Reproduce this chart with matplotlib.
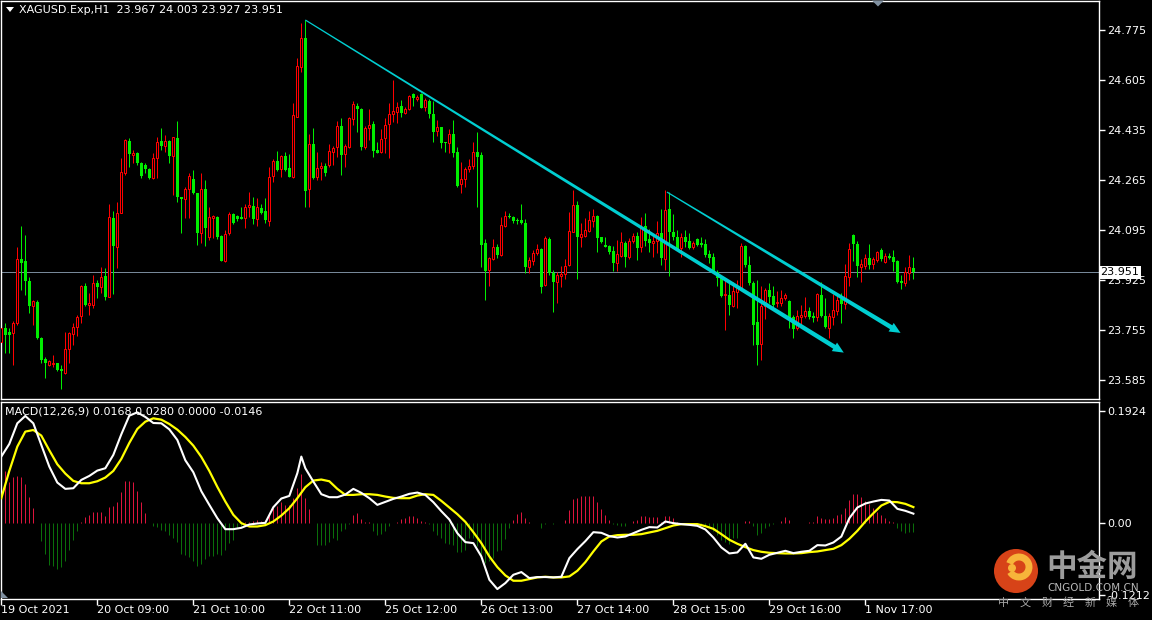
import matplotlib
matplotlib.use('Agg')
import matplotlib.pyplot as plt
import matplotlib.transforms as mtransforms
from matplotlib.patches import Rectangle, Polygon, Circle, Arc
import numpy as np

# ---------------- data ----------------
opens = [23.715,23.761,23.747,23.744,23.780,23.995,23.990,23.922,23.838,23.851,
         23.729,23.655,23.636,23.639,23.642,23.624,23.610,23.689,23.740,23.764,
         23.803,23.905,23.840,23.840,23.916,23.902,23.939,23.868,24.135,24.038,
         24.154,24.288,24.398,24.350,24.358,24.322,24.316,24.301,24.271,24.339,
         24.398,24.381,24.398,24.348,24.409,24.206,24.200,24.233,24.267,24.220,
         24.084,24.233,24.070,24.135,24.140,24.075,23.991,24.084,24.148,24.143,
         24.138,24.135,24.172,24.177,24.131,24.169,24.161,24.127,24.279,24.330,
         24.301,24.347,24.307,24.276,24.480,24.648,24.747,24.233,24.387,24.276,
         24.305,24.313,24.316,24.359,24.378,24.449,24.352,24.376,24.472,24.517,
         24.506,24.378,24.441,24.455,24.367,24.361,24.407,24.454,24.489,24.497,
         24.517,24.494,24.505,24.556,24.539,24.556,24.512,24.534,24.489,24.433,
         24.444,24.393,24.390,24.421,24.359,24.250,24.267,24.301,24.313,24.360,
         24.350,24.050,23.959,23.996,24.036,24.010,24.110,24.143,24.138,24.129,
         24.129,24.118,23.970,23.991,24.016,24.029,23.908,24.063,23.950,23.919,
         23.939,23.945,23.976,24.089,24.180,24.072,24.076,24.093,24.127,24.143,
         24.070,24.044,24.041,24.024,23.982,24.008,24.052,24.004,24.059,24.076,
         24.036,24.110,24.063,24.050,24.058,24.084,23.996,24.165,24.089,24.070,
         24.033,24.070,24.058,24.036,24.064,24.050,24.046,24.012,24.004,23.953,
         23.931,23.874,23.874,23.838,23.885,23.897,24.041,23.976,23.914,23.783,
         23.706,23.837,23.891,23.871,23.846,23.848,23.863,23.854,23.798,23.761,
         23.800,23.803,23.821,23.803,23.800,23.874,23.803,23.761,23.800,23.821,
         23.860,23.842,23.936,24.078,24.046,23.970,23.974,24.001,23.979,23.993,
         24.027,23.987,24.007,24.002,23.990,23.922,23.914,23.950,23.967]
highs = [23.789,23.778,23.761,23.787,24.038,24.109,24.078,23.936,23.857,23.857,
         23.732,23.664,23.653,23.670,23.644,23.636,23.749,23.749,23.778,23.806,
         23.908,23.916,23.880,23.942,23.925,23.970,23.965,24.183,24.161,24.191,
         24.339,24.403,24.407,24.367,24.361,24.327,24.322,24.305,24.356,24.412,
         24.441,24.418,24.401,24.412,24.467,24.208,24.242,24.288,24.299,24.222,
         24.290,24.265,24.174,24.146,24.143,24.078,24.095,24.157,24.152,24.146,
         24.172,24.183,24.225,24.208,24.203,24.183,24.203,24.310,24.335,24.364,
         24.350,24.361,24.353,24.526,24.679,24.798,24.809,24.421,24.443,24.361,
         24.325,24.322,24.387,24.382,24.466,24.475,24.387,24.480,24.534,24.526,
         24.509,24.450,24.506,24.467,24.395,24.438,24.475,24.528,24.605,24.531,
         24.537,24.514,24.554,24.562,24.554,24.560,24.543,24.540,24.534,24.469,
         24.446,24.395,24.438,24.469,24.378,24.327,24.310,24.335,24.395,24.428,
         24.361,24.063,24.004,24.064,24.047,24.138,24.161,24.152,24.144,24.135,
         24.183,24.131,24.004,24.027,24.046,24.033,24.075,24.070,23.959,23.953,
         23.973,23.995,24.156,24.231,24.195,24.118,24.135,24.160,24.165,24.146,
         24.072,24.070,24.044,24.041,24.061,24.087,24.059,24.067,24.084,24.087,
         24.138,24.152,24.098,24.078,24.126,24.166,24.231,24.225,24.148,24.095,
         24.084,24.095,24.084,24.059,24.069,24.070,24.064,24.027,24.016,23.959,
         23.936,23.925,23.914,23.919,23.925,24.052,24.044,24.007,23.923,23.925,
         23.905,23.897,23.914,23.905,23.889,23.891,23.880,23.857,23.806,23.823,
         23.840,23.868,23.834,23.817,23.880,23.919,23.865,23.814,23.877,23.876,
         23.880,23.979,24.052,24.081,24.059,23.995,24.013,24.047,24.004,24.025,
         24.033,24.016,24.018,24.027,23.993,23.942,23.968,24.010,24.003]
lows = [23.664,23.676,23.676,23.636,23.772,23.891,23.874,23.812,23.772,23.723,
        23.642,23.593,23.633,23.630,23.617,23.553,23.605,23.642,23.704,23.735,
        23.778,23.838,23.806,23.829,23.863,23.880,23.857,23.866,23.877,23.965,
        24.152,24.282,24.310,24.322,24.316,24.271,24.288,24.267,24.268,24.271,
        24.367,24.361,24.322,24.214,24.191,24.084,24.135,24.135,24.216,24.044,
        24.052,24.041,24.061,24.067,24.063,23.991,23.987,24.078,24.115,24.127,
        24.131,24.103,24.140,24.115,24.109,24.149,24.120,24.109,24.259,24.297,
        24.274,24.297,24.274,24.273,24.478,24.633,24.174,24.174,24.267,24.265,
        24.265,24.280,24.310,24.316,24.344,24.282,24.310,24.373,24.452,24.429,
        24.367,24.369,24.401,24.342,24.356,24.356,24.358,24.339,24.463,24.460,
        24.480,24.488,24.503,24.517,24.534,24.509,24.501,24.475,24.395,24.416,
        24.373,24.361,24.356,24.344,24.242,24.220,24.240,24.293,24.301,24.174,
        23.970,23.857,23.906,23.993,23.999,24.007,24.106,24.135,24.118,24.115,
        24.115,23.948,23.950,23.976,24.010,23.880,23.906,23.942,23.815,23.848,
        23.902,23.928,23.974,24.087,23.929,24.038,24.072,24.089,24.106,24.021,
        24.050,24.036,24.013,23.957,23.957,24.004,23.970,23.995,24.052,23.993,
        24.021,24.041,24.021,24.002,24.016,23.976,23.959,23.939,24.061,24.027,
        24.004,24.038,24.029,24.029,24.041,24.038,24.004,23.982,23.948,23.905,
        23.868,23.755,23.806,23.834,23.829,23.891,23.970,23.908,23.704,23.636,
        23.653,23.791,23.846,23.825,23.834,23.837,23.857,23.761,23.727,23.755,
        23.772,23.795,23.791,23.783,23.787,23.798,23.761,23.727,23.772,23.806,
        23.780,23.825,23.905,23.991,23.936,23.919,23.961,23.961,23.961,23.987,
        23.991,23.982,23.995,23.957,23.914,23.894,23.905,23.925,23.927]
closes = [23.761,23.738,23.738,23.778,23.995,23.984,23.922,23.838,23.852,23.727,
          23.653,23.642,23.650,23.642,23.619,23.617,23.689,23.744,23.764,23.800,
          23.905,23.840,23.846,23.914,23.902,23.936,23.868,24.138,24.041,24.152,
          24.291,24.401,24.353,24.356,24.322,24.279,24.301,24.271,24.339,24.393,
          24.382,24.396,24.348,24.410,24.206,24.199,24.235,24.279,24.220,24.084,
          24.233,24.101,24.138,24.143,24.072,23.991,24.080,24.148,24.118,24.134,
          24.134,24.174,24.180,24.134,24.172,24.154,24.129,24.276,24.330,24.299,
          24.347,24.299,24.276,24.486,24.653,24.747,24.229,24.387,24.271,24.305,
          24.314,24.290,24.364,24.375,24.449,24.350,24.382,24.475,24.523,24.505,
          24.378,24.443,24.452,24.365,24.358,24.404,24.452,24.489,24.500,24.514,
          24.494,24.506,24.551,24.545,24.548,24.511,24.537,24.488,24.429,24.444,
          24.390,24.392,24.421,24.356,24.246,24.267,24.301,24.313,24.359,24.344,
          24.044,23.957,24.001,24.036,24.010,24.112,24.143,24.140,24.127,24.127,
          24.120,23.970,23.993,24.016,24.029,23.902,24.067,23.950,23.919,23.941,
          23.945,23.974,24.092,24.180,24.072,24.080,24.095,24.129,24.143,24.069,
          24.053,24.038,24.021,23.984,24.013,24.053,24.004,24.059,24.076,24.035,
          24.106,24.059,24.052,24.059,24.084,23.999,24.163,24.089,24.070,24.029,
          24.072,24.055,24.035,24.052,24.044,24.044,24.010,23.999,23.950,23.931,
          23.871,23.877,23.840,23.889,23.899,24.041,23.976,23.916,23.772,23.704,
          23.837,23.891,23.868,23.840,23.851,23.863,23.874,23.795,23.757,23.803,
          23.806,23.821,23.800,23.797,23.877,23.803,23.766,23.803,23.823,23.857,
          23.842,23.939,24.029,24.046,23.974,23.978,24.001,23.976,23.995,24.021,
          23.995,24.008,24.001,23.987,23.917,23.916,23.951,23.970,23.951]

# MACD main line (white), sampled at these bar indices
macd_bars = list(range(0, 75, 2)) + [75] + list(range(76, 229, 2))
macd_main = [0.1142,0.1357,0.1710,0.1835,0.1710,0.1340,0.0971,0.0699,0.0591,0.0602,
             0.0744,0.0812,0.0903,0.0943,0.1170,0.1522,0.1840,0.1897,0.1818,0.1715,
             0.1710,0.1607,0.1426,0.1079,0.0875,0.0551,0.0318,0.0091,-0.0097,-0.0097,
             -0.0074,-0.0017,0.0000,0.0011,0.0278,0.0426,0.0471,0.0858,
             0.1142,
             0.0943,0.0716,0.0500,0.0449,0.0449,0.0494,0.0591,0.0523,0.0432,0.0318,
             0.0369,0.0420,0.0460,0.0506,0.0528,0.0488,0.0364,0.0210,0.0068,-0.0165,
             -0.0318,-0.0335,-0.0562,-0.0960,-0.1119,-0.1017,-0.0875,-0.0829,-0.0932,-0.0914,
             -0.0914,-0.0920,-0.0909,-0.0591,-0.0437,-0.0301,-0.0148,-0.0159,-0.0216,-0.0239,
             -0.0222,-0.0165,-0.0108,-0.0062,-0.0068,0.0034,0.0006,-0.0011,-0.0023,-0.0040,
             -0.0102,-0.0239,-0.0409,-0.0511,-0.0494,-0.0346,-0.0579,-0.0602,-0.0534,-0.0500,
             -0.0466,-0.0506,-0.0483,-0.0466,-0.0369,-0.0375,-0.0324,-0.0222,0.0091,0.0273,
             0.0341,0.0375,0.0403,0.0392,0.0250,0.0216,0.0168]
# signal line (yellow), every second bar
signal_bars = list(range(0, 229, 2))
macd_signal = [0.0432,0.0897,0.1312,0.1568,0.1596,0.1500,0.1250,0.1011,0.0852,0.0727,
               0.0687,0.0687,0.0721,0.0784,0.0897,0.1102,0.1375,0.1613,0.1738,0.1795,
               0.1772,0.1698,0.1602,0.1477,0.1329,0.1136,0.0897,0.0625,0.0375,0.0148,
               0.0006,-0.0051,-0.0051,-0.0028,0.0034,0.0136,0.0261,0.0432,0.0619,0.0733,
               0.0750,0.0721,0.0591,0.0488,0.0488,0.0500,0.0500,0.0488,0.0460,0.0437,
               0.0432,0.0432,0.0477,0.0500,0.0488,0.0386,0.0273,0.0159,0.0028,-0.0148,
               -0.0335,-0.0562,-0.0744,-0.0886,-0.0977,-0.0977,-0.0949,-0.0920,-0.0909,-0.0920,
               -0.0920,-0.0903,-0.0807,-0.0659,-0.0477,-0.0307,-0.0222,-0.0199,-0.0193,-0.0193,
               -0.0182,-0.0153,-0.0125,-0.0080,-0.0034,-0.0011,-0.0011,-0.0011,-0.0045,-0.0091,
               -0.0182,-0.0278,-0.0346,-0.0403,-0.0454,-0.0483,-0.0500,-0.0506,-0.0511,-0.0511,
               -0.0506,-0.0488,-0.0477,-0.0454,-0.0432,-0.0369,-0.0261,-0.0125,0.0034,0.0176,
               0.0307,0.0369,0.0364,0.0335,0.0280]
# histogram, one value per bar
macd_hist = [0.0943,0.0897,0.0716,0.0801,0.0812,0.0795,0.0670,0.0449,0.0261,0.0,
             -0.0295,-0.0523,-0.0704,-0.0733,-0.0772,-0.0750,-0.0648,-0.0449,-0.0278,-0.0136,
             0.0034,0.0119,0.0148,0.0204,0.0204,0.0204,0.0131,0.0290,0.0307,0.0375,
             0.0545,0.0727,0.0733,0.0704,0.0557,0.0364,0.0176,0.0006,-0.0051,-0.0068,
             -0.0108,-0.0125,-0.0193,-0.0250,-0.0318,-0.0523,-0.0534,-0.0579,-0.0648,-0.0733,
             -0.0693,-0.0602,-0.0551,-0.0562,-0.0523,-0.0534,-0.0449,-0.0335,-0.0278,-0.0080,
             -0.0051,0.0023,0.0034,0.0045,0.0062,0.0045,0.0062,0.0176,0.0261,0.0307,
             0.0364,0.0318,0.0318,0.0432,0.0613,0.0841,0.0432,0.0250,0.0,-0.0364,
             -0.0375,-0.0364,-0.0318,-0.0239,-0.0278,-0.0136,-0.0091,-0.0011,0.0148,0.0176,
             0.0080,0.0034,0.0023,-0.0136,-0.0193,-0.0182,-0.0125,-0.0051,0.0,0.0034,
             0.0080,0.0102,0.0136,0.0136,0.0102,0.0045,0.0023,-0.0011,-0.0136,-0.0204,
             -0.0250,-0.0335,-0.0352,-0.0364,-0.0488,-0.0488,-0.0449,-0.0250,-0.0250,-0.0392,
             -0.0591,-0.0676,-0.0648,-0.0591,-0.0477,-0.0449,-0.0261,-0.0080,0.0062,0.0159,
             0.0204,0.0091,0.0023,0.0011,0.0011,-0.0080,-0.0006,0.0,-0.0011,0.0,
             0.0006,0.0062,0.0233,0.0420,0.0443,0.0466,0.0471,0.0471,0.0466,0.0375,
             0.0250,0.0148,0.0062,-0.0006,-0.0034,-0.0051,-0.0045,0.0,0.0045,0.0062,
             0.0136,0.0131,0.0108,0.0108,0.0114,0.0034,0.0136,0.0136,0.0091,0.0034,
             0.0,0.0,0.0,-0.0011,0.0,-0.0011,-0.0034,-0.0057,-0.0136,-0.0204,
             -0.0278,-0.0318,-0.0352,-0.0250,-0.0239,0.0,0.0045,0.0051,-0.0051,-0.0193,
             -0.0159,-0.0080,-0.0045,-0.0011,0.0,0.0045,0.0108,0.0062,0.0,0.0,
             0.0,0.0,0.0023,0.0034,0.0131,0.0102,0.0080,0.0080,0.0102,0.0148,
             0.0159,0.0261,0.0403,0.0506,0.0500,0.0449,0.0392,0.0329,0.0261,0.0193,
             0.0148,0.0091,0.0045,0.0023,-0.0080,-0.0136,-0.0165,-0.0148,-0.0146]

price_ticks = [24.775, 24.605, 24.435, 24.265, 24.095, 23.925, 23.755, 23.585]
macd_ticks = [0.1924, 0.0, -0.1212]
macd_tick_labels = ['0.1924', '0.00', '-0.1212']
date_bars = [0, 24, 48, 72, 96, 120, 144, 168, 192, 216]
date_labels = ['19 Oct 2021', '20 Oct 09:00', '21 Oct 10:00', '22 Oct 11:00', '25 Oct 12:00',
               '26 Oct 13:00', '27 Oct 14:00', '28 Oct 15:00', '29 Oct 16:00', '1 Nov 17:00']
# trend lines: (bar, price) start and arrow tip
trend1 = [(76.0, 24.809), (210.6, 23.678)]
trend2 = [(166.4, 24.224), (224.8, 23.745)]
header = 'XAGUSD.Exp,H1  23.967 24.003 23.927 23.951'
macd_label = 'MACD(12,26,9) 0.0168 0.0280 0.0000 -0.0146'

# ---------------- figure ----------------
W, H = 1152, 620
fig = plt.figure(figsize=(W / 100, H / 100), dpi=100, facecolor='black')
plt.rcParams['font.family'] = ['DejaVu Sans']

def px_axes(x0, y0, x1, y1):
    return fig.add_axes([x0 / W, 1 - y1 / H, (x1 - x0) / W, (y1 - y0) / H])

ax = px_axes(0.5, 0.5, 1099, 399)
ax2 = px_axes(0.5, 401.5, 1099, 598.5)
PX = 0.72  # one pixel in points

RED = '#FF0000'
GREEN = '#00EE00'
n = len(closes)
xs = np.arange(n)
for a in (ax, ax2):
    a.set_facecolor('black')
    a.set_xlim(-0.2, 274.4)
    for s in a.spines.values():
        s.set_color('white')
        s.set_linewidth(1)

ax.set_ylim(23.5203, 24.8753)
ax2.set_ylim(-0.1280, 0.2082)

# candles
for i in range(n):
    o, h, l, c = opens[i], highs[i], lows[i], closes[i]
    up = c >= o
    col = RED if up else GREEN
    ax.vlines(i, l, h, colors=col, linewidth=PX, zorder=2)
    lo, hi = min(o, c), max(o, c)
    if up:
        ax.add_patch(Rectangle((i - 0.25, lo), 0.5, max(hi - lo, 0.0005),
                               facecolor='black', edgecolor=col, linewidth=PX, zorder=3))
    else:
        hgt = max(hi - lo, 0.0034)
        ax.add_patch(Rectangle((i - 0.375, hi - hgt), 0.75, hgt,
                               facecolor=col, edgecolor='none', zorder=3))

ax.axhline(closes[-1], color='#778899', linewidth=PX, zorder=1)

# right price axis
ax.yaxis.tick_right()
ax.set_yticks(price_ticks)
ax.set_yticklabels([f'{t:.3f}' for t in price_ticks])
ax.tick_params(axis='y', colors='white', labelcolor='white', labelsize=8,
               length=4, width=1, pad=2, direction='out')
ax.set_xticks([])

trans = mtransforms.blended_transform_factory(fig.transFigure, ax.transData)
ax.text(1100.5 / W, closes[-1], f'{closes[-1]:.3f}', transform=trans, ha='left', va='center',
        color='black', fontsize=8, zorder=10,
        bbox=dict(boxstyle='square,pad=0.12', facecolor='white', edgecolor='none'))


def tapered_arrow(a, p0, p1, w0, w1, head_len, head_w, color):
    T = a.transData
    s = T.transform(p0)
    e = T.transform(p1)
    d = e - s
    L = np.hypot(*d)
    u = d / L
    nn = np.array([-u[1], u[0]])
    base = e - u * head_len
    pts = [s + nn * w0 / 2, base + nn * w1 / 2, base + nn * head_w / 2, e,
           base - nn * head_w / 2, base - nn * w1 / 2, s - nn * w0 / 2]
    data = T.inverted().transform(np.array(pts))
    a.add_patch(Polygon(data, closed=True, facecolor=color, edgecolor='none', zorder=6))

tapered_arrow(ax, trend1[0], trend1[1], 1.2, 4.5, 11, 10, '#00CED1')
tapered_arrow(ax, trend2[0], trend2[1], 1.2, 4.5, 11, 10, '#00CED1')

# MACD panel
hist = np.array(macd_hist)
hcols = np.where(hist >= 0, '#DC143C', '#0A6E0A')
ax2.vlines(xs, 0, hist, colors=hcols, linewidth=PX, zorder=2)
ax2.plot(signal_bars, macd_signal, color='#FFFF00', linewidth=1.6, zorder=3)
ax2.plot(macd_bars, macd_main, color='white', linewidth=1.5, zorder=4)

ax2.yaxis.tick_right()
ax2.set_yticks(macd_ticks)
ax2.set_yticklabels(macd_tick_labels)
ax2.tick_params(axis='y', colors='white', labelcolor='white', labelsize=8,
                length=4, width=1, pad=2, direction='out')
ax2.set_xticks(date_bars)
ax2.set_xticklabels(date_labels)
ax2.tick_params(axis='x', colors='white', labelcolor='white', labelsize=8,
                length=4, width=1, pad=1, direction='out')
for lbl in ax2.get_xticklabels():
    lbl.set_horizontalalignment('left')

# overlay for decorations in pixel coordinates
ov = fig.add_axes([0, 0, 1, 1], zorder=20)
ov.set_xlim(0, W)
ov.set_ylim(H, 0)
ov.axis('off')
ov.patch.set_alpha(0)

ov.add_patch(Polygon([(6, 7), (14, 7), (10, 12)], closed=True, facecolor='white', edgecolor='none'))
ov.text(19, 10, header, color='white', fontsize=8, va='center', ha='left')
ov.text(5, 412, macd_label, color='white', fontsize=8, va='center', ha='left')
ov.add_patch(Polygon([(872, 0.5), (884, 0.5), (878, 6.5)], closed=True, facecolor='#8090A0', edgecolor='none'))
ov.add_patch(Polygon([(1, 591), (1, 598), (8, 598)], closed=True, facecolor='#8090A0', edgecolor='none'))

# watermark
cjk = ['Noto Sans CJK SC', 'DejaVu Sans']
ov.add_patch(Circle((1016, 571), 22, facecolor='#E4471A', edgecolor='none', alpha=0.95))
ov.add_patch(Arc((1019, 567), 20, 20, theta1=-160, theta2=150, color='#F7B43A', linewidth=5))
ov.add_patch(Circle((1012, 568), 4, facecolor='#F7B43A', edgecolor='none'))
ov.text(1046, 567, '中金网', fontsize=22, fontweight='bold', color='#9C9C9C',
        va='center', ha='left', family=cjk)
ov.text(1047, 588, 'CNGOLD.COM.CN', fontsize=7.5, color='#B8B8B8', va='center', ha='left')
for k, ch in enumerate('中文财经新媒体'):
    ov.text(1004 + 21.5 * k, 603, ch, fontsize=8, color='#A8A8A8', va='center', ha='center', family=cjk)

fig.savefig('out.png', dpi=100, facecolor='black')
